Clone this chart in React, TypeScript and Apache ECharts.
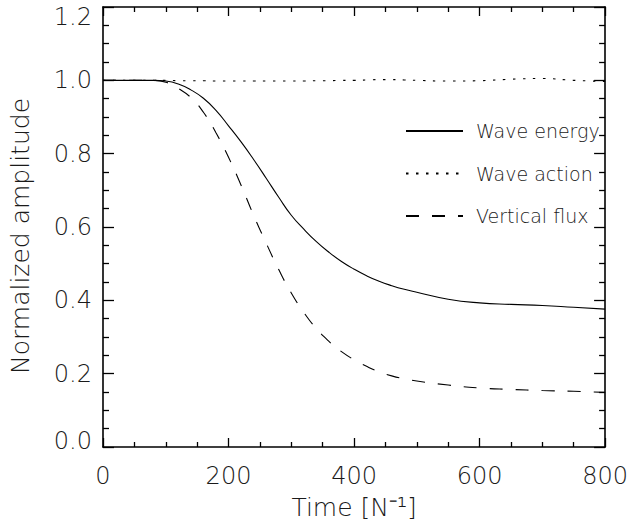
import React, { useEffect, useRef } from "react";
import * as echarts from "echarts";

const times = [0, 20, 40, 60, 80, 100, 120, 140, 160, 180, 200, 220, 240, 260, 280, 300, 320, 340, 360, 380, 400, 420, 440, 460, 480, 500, 550, 600, 650, 700, 750, 800];
const waveEnergy = [1.0, 1.0, 1.0, 1.0, 1.0, 0.998, 0.99, 0.974, 0.951, 0.918, 0.876, 0.832, 0.784, 0.733, 0.681, 0.632, 0.594, 0.56, 0.531, 0.506, 0.485, 0.467, 0.452, 0.44, 0.43, 0.422, 0.403, 0.393, 0.389, 0.386, 0.381, 0.376];
const waveAction = [1.0, 1.0, 1.0, 1.0, 1.0, 1.0, 0.999, 0.999, 0.999, 0.998, 0.998, 0.998, 0.998, 0.998, 0.998, 0.998, 0.998, 0.999, 0.999, 1.0, 1.0, 1.001, 1.002, 1.002, 1.001, 1.0, 0.998, 0.999, 1.003, 1.005, 1.0, 0.997];
const verticalFlux = [1.0, 1.0, 1.0, 1.0, 1.0, 0.995, 0.978, 0.953, 0.913, 0.857, 0.79, 0.714, 0.632, 0.556, 0.484, 0.42, 0.367, 0.323, 0.288, 0.26, 0.238, 0.22, 0.205, 0.194, 0.186, 0.18, 0.169, 0.161, 0.157, 0.154, 0.152, 0.149];
const seriesNames = ["Wave energy", "Wave action", "Vertical flux"];

const FONT = "DejaVu Sans";
const TXT = "#1a1a1a";
const WEIGHT = 200;

const pairs = (vals: number[]) => times.map((t, i) => [t, vals[i]]);

function makeAxis(kind: "x" | "y", position: string, extra: any) {
  const isX = kind === "x";
  return {
    type: "value",
    position,
    min: 0,
    max: isX ? 800 : 1.2,
    interval: isX ? 200 : 0.2,
    axisLine: { show: true, onZero: false, lineStyle: { color: "#000", width: 1.6 } },
    splitLine: { show: false },
    axisTick: { show: true, inside: true, length: isX ? 9 : 11, lineStyle: { color: "#000", width: 1.3 } },
    minorTick: { show: true, splitNumber: 4, length: isX ? 5 : 6, lineStyle: { color: "#000", width: 1.3 } },
    ...extra,
  };
}

export default function App() {
  const ref = useRef<HTMLDivElement>(null);
  useEffect(() => {
    if (!ref.current) return;
    const chart = echarts.init(ref.current, undefined, { renderer: "svg" });
    const lineTypes: any[] = ["solid", [2.5, 7.5], [13, 13]];
    const data = [waveEnergy, waveAction, verticalFlux];
    const txt = { fontFamily: FONT, color: TXT, fontWeight: WEIGHT };
    chart.setOption({
      animation: false,
      backgroundColor: "#fff",
      grid: { left: 97, right: 22, top: 7, bottom: 82 },
      legend: {
        orient: "vertical",
        left: 405,
        top: 121,
        padding: 0,
        itemWidth: 57,
        itemHeight: 20,
        itemGap: 22.5,
        data: seriesNames,
        itemStyle: { opacity: 0 },
        textStyle: { ...txt, fontSize: 19, lineHeight: 20, padding: [0, 0, 0, 8] },
      },
      xAxis: [
        makeAxis("x", "bottom", {
          name: "Time [N⁻¹]",
          nameLocation: "middle",
          nameGap: 48,
          nameTextStyle: { ...txt, fontSize: 25 },
          axisLabel: { ...txt, margin: 17, fontSize: 24 },
        }),
        makeAxis("x", "top", { axisLabel: { show: false } }),
      ],
      yAxis: [
        makeAxis("y", "left", {
          name: "Normalized amplitude",
          nameLocation: "middle",
          nameGap: 70,
          nameTextStyle: { ...txt, fontSize: 25, padding: [0, 18, 0, 0] },
          axisLabel: {
            ...txt,
            margin: 11,
            fontSize: 24,
            formatter: (v: number) => {
              const s = v.toFixed(1);
              if (Math.abs(v - 1.2) < 1e-6) return "{top|" + s + "}";
              if (Math.abs(v) < 1e-6) return "{bot|" + s + "}";
              return s;
            },
            rich: {
              top: { ...txt, fontSize: 24, padding: [19, 0, 0, 0] },
              bot: { ...txt, fontSize: 24, padding: [0, 0, 13, 0] },
            },
          },
        }),
        makeAxis("y", "right", { axisLabel: { show: false } }),
      ],
      series: seriesNames.map((name, i) => ({
        name,
        type: "line",
        xAxisIndex: 0,
        yAxisIndex: 0,
        data: pairs(data[i]),
        smooth: true,
        symbol: "none",
        showSymbol: false,
        color: "#000",
        lineStyle: { color: "#000", width: 1.1, type: lineTypes[i] },
      })),
    });
    return () => chart.dispose();
  }, []);
  return (
    <div
      ref={ref}
      style={{ position: "fixed", left: 0, top: 0, width: 631, height: 529, background: "#fff" }}
    />
  );
}
